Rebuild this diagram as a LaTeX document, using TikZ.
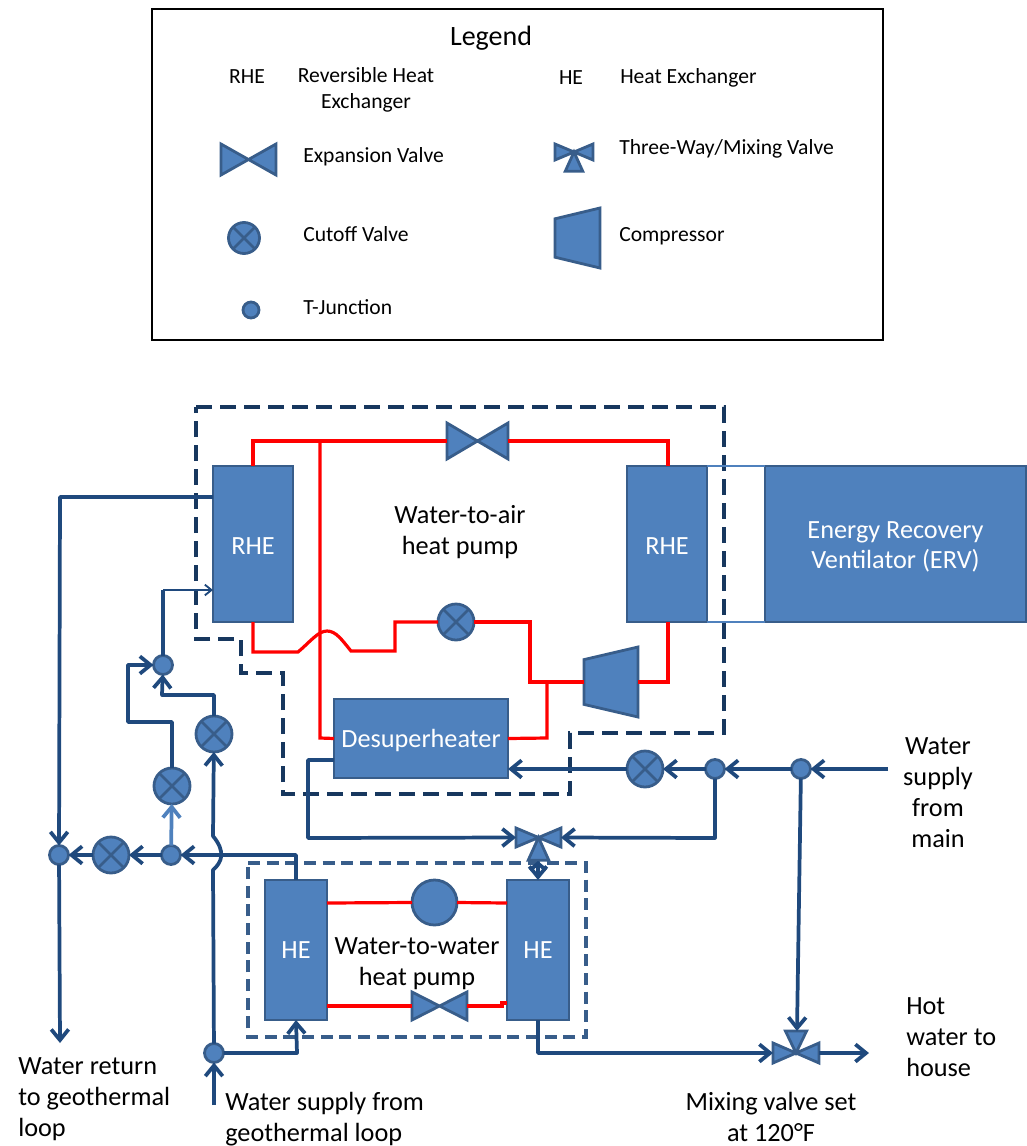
\documentclass[tikz,border=0pt]{standalone}
\usepackage{fontspec}
\setmainfont{Carlito}
\usetikzlibrary{arrows.meta}
\definecolor{sym}{HTML}{4F81BD}
\definecolor{symline}{HTML}{385D8A}
\definecolor{pipec}{HTML}{1F497D}
\definecolor{dashc}{HTML}{17375E}
\makeatletter
\newcommand\myrectanchors{%
  \inheritsavedanchors[from=rectangle]%
  \inheritanchorborder[from=rectangle]%
  \inheritanchor[from=rectangle]{center}%
  \inheritanchor[from=rectangle]{north}%
  \inheritanchor[from=rectangle]{south}%
  \inheritanchor[from=rectangle]{east}%
  \inheritanchor[from=rectangle]{west}}
\newcommand\mycorners{%
  \southwest \pgf@xa=\pgf@x \pgf@ya=\pgf@y
  \northeast \pgf@xb=\pgf@x \pgf@yb=\pgf@y
  \pgf@xc=.5\pgf@xa \advance\pgf@xc by .5\pgf@xb
  \pgf@yc=.5\pgf@ya \advance\pgf@yc by .5\pgf@yb}
\newcommand\mybow{%
  \pgfpathmoveto{\pgfqpoint{\pgf@xa}{\pgf@yb}}%
  \pgfpathlineto{\pgfqpoint{\pgf@xc}{\pgf@yc}}%
  \pgfpathlineto{\pgfqpoint{\pgf@xb}{\pgf@yb}}%
  \pgfpathlineto{\pgfqpoint{\pgf@xb}{\pgf@ya}}%
  \pgfpathlineto{\pgfqpoint{\pgf@xc}{\pgf@yc}}%
  \pgfpathlineto{\pgfqpoint{\pgf@xa}{\pgf@ya}}%
  \pgfpathclose}
\pgfdeclareshape{bowtie}{\myrectanchors
  \backgroundpath{\mycorners\mybow}}
\newdimen\myhw \newdimen\myth \newdimen\mylow \newdimen\myhigh
\pgfdeclareshape{threewaydown}{\myrectanchors
  \backgroundpath{\mycorners\mybow
    \myhw=\pgf@xb \advance\myhw by -\pgf@xa \myhw=.23\myhw
    \myth=\pgf@yb \advance\myth by -\pgf@ya \myth=1.2\myth
    \pgfpathmoveto{\pgfqpoint{\pgf@xc}{\pgf@yc}}%
    \pgfpathlineto{\pgfpoint{\pgf@xc+\myhw}{\pgf@yc-\myth}}%
    \pgfpathlineto{\pgfpoint{\pgf@xc-\myhw}{\pgf@yc-\myth}}%
    \pgfpathclose}}
\pgfdeclareshape{threewayup}{\myrectanchors
  \backgroundpath{\mycorners\mybow
    \myhw=\pgf@xb \advance\myhw by -\pgf@xa \myhw=.23\myhw
    \myth=\pgf@yb \advance\myth by -\pgf@ya \myth=1.1\myth
    \pgfpathmoveto{\pgfqpoint{\pgf@xc}{\pgf@yc}}%
    \pgfpathlineto{\pgfpoint{\pgf@xc+\myhw}{\pgf@yc+\myth}}%
    \pgfpathlineto{\pgfpoint{\pgf@xc-\myhw}{\pgf@yc+\myth}}%
    \pgfpathclose}}
\pgfdeclareshape{compr}{\myrectanchors
  \backgroundpath{\mycorners
    \myth=\pgf@yb \advance\myth by -\pgf@ya \myth=.18\myth
    \mylow=\pgf@ya \advance\mylow by \myth
    \myhigh=\pgf@yb \advance\myhigh by -\myth
    \pgfpathmoveto{\pgfqpoint{\pgf@xa}{\mylow}}%
    \pgfpathlineto{\pgfqpoint{\pgf@xb}{\pgf@ya}}%
    \pgfpathlineto{\pgfqpoint{\pgf@xb}{\pgf@yb}}%
    \pgfpathlineto{\pgfqpoint{\pgf@xa}{\myhigh}}%
    \pgfpathclose}}
\makeatother
\newcommand\lowered[1]{\raisebox{-1.5pt}[\height][\depth]{#1}}
\tikzset{
  symbase/.style={draw=symline,fill=sym,line width=2.1pt,inner sep=0pt,outer sep=0pt,line join=miter},
  heatbox/.style={symbase,rectangle,text=white,font=\fontsize{19.7}{22}\selectfont,align=center},
  expvalve/.style 2 args={symbase,shape=bowtie,minimum width=#1*0.75pt,minimum height=#2*0.75pt},
  tvdown/.style 2 args={symbase,shape=threewaydown,minimum width=#1*0.75pt,minimum height=#2*0.75pt},
  tvup/.style 2 args={symbase,shape=threewayup,minimum width=#1*0.75pt,minimum height=#2*0.75pt},
  comprs/.style 2 args={symbase,shape=compr,minimum width=#1*0.75pt,minimum height=#2*0.75pt},
  cutoff/.style={symbase,circle,minimum size=36*0.75pt,
    path picture={\draw[symline,line width=2pt]
      (path picture bounding box.north west)--(path picture bounding box.south east)
      (path picture bounding box.north east)--(path picture bounding box.south west);}},
  pumpc/.style={symbase,circle,minimum size=45*0.75pt},
  tjunc/.style={symbase,circle,minimum size=19*0.75pt},
  pipe/.style={draw=pipec,line width=2.8pt,line join=round},
  flow/.style={pipe,-{Straight Barb[length=8pt,width=13pt]}},
  flowboth/.style={pipe,{Straight Barb[length=5pt,width=12pt]}-{Straight Barb[length=8pt,width=13pt]}},
  lightflow/.style={draw=sym,line width=2.8pt,-{Straight Barb[length=8pt,width=13pt]}},
  thinflow/.style={draw=pipec,line width=1.4pt,-{Straight Barb[length=5pt,width=8pt]}},
  refr/.style={draw=red,line width=2.4pt,line join=miter},
  outerdash/.style={draw=dashc,line width=3pt,dash pattern=on 12pt off 6pt},
  innerdash/.style={draw=symline,line width=2.4pt,dash pattern=on 9pt off 5pt},
  bigt/.style={inner sep=0pt,align=center,font=\fontsize{19.7}{23.25}\selectfont},
  leftt/.style={bigt,align=left},
  legt/.style={inner sep=0pt,align=center,font=\fontsize{16.2}{19.5}\selectfont},
  tie/.style={draw=sym,line width=2.2pt},
}
\begin{document}
\begin{tikzpicture}[x=0.75pt,y=-0.75pt]
\useasboundingbox (0,0) rectangle (1026,1146);
% ---------- legend ----------
\node[draw=black,line width=2.2pt,minimum width=731*0.75pt,minimum height=331*0.75pt,inner sep=0pt] (legendbox) at (517.5,174.5) {};
\node[inner sep=0pt,font=\fontsize{21}{23}\selectfont] (legendtitle) at (491,38) {Legend};
\node[legt] (lrhe) at (247,77) {RHE};
\node[legt] (lrhetext) at (366,90) {Reversible Heat\\Exchanger};
\node[legt] (lhe) at (571,78) {HE};
\node[legt,anchor=west] (lhetext) at (620,78) {Heat Exchanger};
\node[expvalve={55}{31}] (lexp) at (248.5,159.5) {};
\node[legt,anchor=west] (lexpt) at (303,157) {Expansion Valve};
\node[tvdown={38}{16}] (ltv) at (574,152) {};
\node[legt,anchor=west] (ltvt) at (619,149) {Three-Way/Mixing Valve};
\node[cutoff,minimum size=31*0.75pt] (lcut) at (244,238) {};
\node[legt,anchor=west] (lcutt) at (303,234) {Cutoff Valve};
\node[comprs={45}{60}] (lcomp) at (577.5,238) {};
\node[legt,anchor=west] (lcompt) at (619,236) {Compressor};
\node[tjunc,minimum size=16*0.75pt] (ltj) at (251,310) {};
\node[legt,anchor=west] (ltjt) at (303,307) {T-Junction};
% ---------- dashed enclosures ----------
\draw[outerdash] (196,407) -- (724,407) -- (724,733) -- (570,733) -- (570,794) -- (283,794) -- (283,673) -- (241,673) -- (241,639) -- (196,639) -- cycle;
\draw[innerdash] (248,863) -- (586,863) -- (586,1037) -- (248,1037) -- cycle;
% ---------- components ----------
\node[heatbox,minimum width=60pt,minimum height=117pt] (rheL) at (253,544) {\lowered{RHE}};
\node[heatbox,minimum width=60pt,minimum height=117pt] (rheR) at (667,544) {\lowered{RHE}};
\node[heatbox,minimum width=195.75pt,minimum height=117pt] (erv) at (895.5,544) {\rule{0pt}{17pt}Energy Recovery\\Ventilator (ERV)};
\node[heatbox,minimum width=130.5pt,minimum height=59.25pt] (desup) at (421,738.5) {\lowered{Desuperheater}};
\node[heatbox,minimum width=46.5pt,minimum height=105pt] (heL) at (296,950) {HE};
\node[heatbox,minimum width=46.5pt,minimum height=105pt] (heR) at (538,950) {HE};
\node[expvalve={61}{36}] (expT) at (477.5,441) {};
\node[expvalve={55}{28}] (expB) at (439.5,1006) {};
\node[cutoff] (cutR) at (456,622) {};
\node[comprs={54}{70}] (comp) at (611,682) {};
\node[pumpc] (pump) at (434.5,902.5) {};
\node[cutoff] (cutA) at (214,734) {};
\node[cutoff] (cutB) at (172,786) {};
\node[cutoff] (cutC) at (111,855) {};
\node[cutoff] (cutD) at (645,769) {};
\node[tjunc] (j1) at (59,855) {};
\node[tjunc] (j2) at (171,855) {};
\node[tjunc] (j3) at (163,665) {};
\node[tjunc] (j4) at (715,769) {};
\node[tjunc] (j5) at (801,769) {};
\node[tjunc] (j6) at (214,1053) {};
\node[tvdown={45}{19}] (tvA) at (538.5,837.5) {};
\node[tvup={46}{20}] (tvB) at (796,1053) {};
% ---------- named ports and free ends ----------
\coordinate (tvAb) at (538,861);
\coordinate (tvBt) at (797,1031);
\coordinate (mainin) at (888,769);
\coordinate (geoin) at (214,1105);
\coordinate (retout) at (60,1043);
\coordinate (hotout) at (869,1053);
\coordinate (rL1) at (253,466);
\coordinate (rL2) at (253,622);
\coordinate (rR1) at (668,466);
\coordinate (rR2) at (668,622);
\coordinate (redtj) at (320,441);
\coordinate (redtj2) at (547,682);
\coordinate (retp) at (213,497);
\coordinate (supp) at (213,590);
\coordinate (desb) at (334,760);
\coordinate (desin) at (508,769);
\coordinate (heLt) at (327,903);
\coordinate (heRt) at (507,903);
\coordinate (heLb) at (327,1006);
\coordinate (heRb) at (507,1003);
% ---------- ties between RHE and ERV ----------
\draw[tie] (rheR.north east) -- (erv.north west);
\draw[tie] (rheR.south east) -- (erv.south west);
% ---------- refrigerant ----------
\draw[refr] (rL1) -- (253,441) -- (expT.west);
\draw[refr] (expT.east) -- (668,441) -- (rR1);
\draw[refr] (redtj) -- (320,738) -- (desup.west);
\draw[refr] (rL2) -- (253,652) -- (298,652) .. controls (310,642) and (318,631) .. (327,631) .. controls (336,631) and (342,640) .. (351,651) -- (395,651) -- (395,622) -- (cutR.west);
\draw[refr] (cutR.east) -- (530,622) -- (530,682) -- (comp.west);
\draw[refr] (comp.east) -- (668,682) -- (rR2);
\draw[refr] (desup.east) -- (547,738) -- (redtj2);
\draw[refr] (heLt) -- (pump.west);
\draw[refr] (pump.east) -- (heRt);
\draw[refr] (heLb) -- (expB.west);
\draw[refr] (expB.east) -- (502,1006) -- (502,1003) -- (heRb);
% ---------- water ----------
\draw[flow] (retp) -- (60,497) -- (j1);
\draw[flow] (j1) -- (retout);
\draw[pipe] (j3) -- (163,590);
\draw[thinflow] (163,590) -- (supp);
\draw[flow] (cutB) -- (172,722) -- (128,722) -- (128,665) -- (j3);
\draw[flow] (cutA) -- (214,695) -- (162,695) -- (j3);
\draw[flow] (j6) -- (213,870) .. controls (222,862) and (226,852) .. (213,836) -- (cutA);
\draw[flow] (heL.north) -- (296,855) -- (j2);
\draw[flow] (j2) -- (cutC);
\draw[flow] (cutC) -- (j1);
\draw[lightflow] (j2) -- (cutB);
\draw[flow] (desb) -- (308,760) -- (308,838) -- (tvA.west);
\draw[flow] (j4) -- (715,838) -- (tvA.east);
\draw[flowboth] (tvAb) -- (heR.north);
\draw[flow] (mainin) -- (j5);
\draw[flow] (j5) -- (j4);
\draw[flow] (j4) -- (cutD);
\draw[flow] (cutD) -- (desin);
\draw[flow] (j5) -- (tvBt);
\draw[flow] (heR.south) -- (538,1053) -- (tvB.west);
\draw[flow] (tvB.east) -- (hotout);
\draw[flow] (geoin) -- (j6);
\draw[flow] (j6) -- (297,1053) -- (heL.south);
% ---------- labels ----------
\node[bigt] (lwa) at (460,532) {Water-to-air\\heat pump};
\node[bigt] (lww) at (417,964) {Water-to-water\\heat pump};
\node[bigt] (lmain) at (938,793) {Water\\supply\\from\\main};
\node[leftt,anchor=west] (lhot) at (906,1037) {Hot\\water to\\house};
\node[bigt] (lmix) at (771,1117) {Mixing valve set\\at 120°F};
\node[leftt,anchor=west] (lret) at (18,1099) {Water return\\to geothermal\\loop};
\node[leftt,anchor=west] (lgeo) at (225,1119) {Water supply from\\geothermal loop};
\end{tikzpicture}
\end{document}
